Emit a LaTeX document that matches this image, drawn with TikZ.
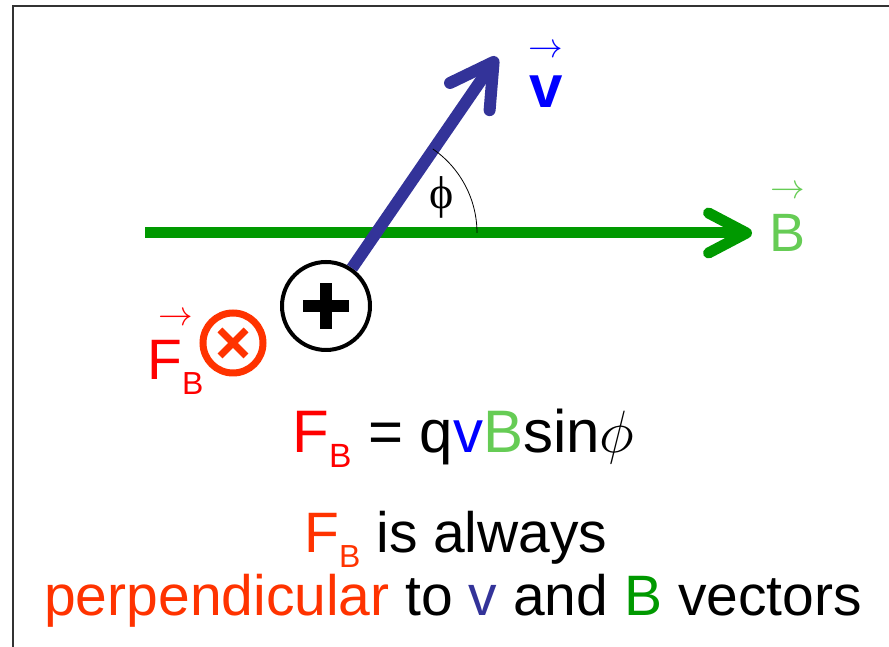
\documentclass[tikz,border=0pt]{standalone}
\usepackage{fontspec}
\setmainfont{Liberation Sans}
\newfontfamily\greekserif{Liberation Serif}
\usepackage{tikz}
\usetikzlibrary{arrows.meta,positioning}
\definecolor{fieldgreen}{HTML}{009900}
\definecolor{lightgreen}{HTML}{66CC55}
\definecolor{chargeblue}{HTML}{333399}
\definecolor{velblue}{HTML}{0000FF}
\definecolor{forcered}{HTML}{FF3300}
\definecolor{purered}{HTML}{FF0000}
\definecolor{framegray}{HTML}{333333}
\newcommand{\subb}{\raisebox{-0.25em}{\scalebox{0.56}{B}}}
\tikzset{
  fieldar/.style={-{Straight Barb[round,length=19pt,width=20pt]},line width=5.5pt,fieldgreen},
  velar/.style={-{Straight Barb[round,length=21pt,width=24pt]},line width=6pt,chargeblue},
  frame/.style={line width=1.3pt,framegray},
  anglearc/.style={thin,black},
  charge/.style={circle,draw,line width=2pt,minimum size=44pt,inner sep=0pt},
  intopage/.style={circle,draw=forcered,line width=3.5pt,minimum size=30pt,inner sep=0pt},
  txt/.style={font=\fontsize{28.5}{34}\selectfont,inner sep=0pt},
  vecmark/.style={inner sep=0pt,font=\fontsize{16.5}{16.5}\selectfont}
}
\begin{document}
\begin{tikzpicture}[x=0.5pt,y=0.5pt]
\useasboundingbox (0,0) rectangle (889,647);
\draw[frame] (13,0) -- (13,641) -- (889,641);
\coordinate (bstart) at (145,414);
\coordinate (btip) at (752,414);
\coordinate (vtip) at (497,590);
\coordinate (vertex) at (375,414);
\node[charge] (q) at (326,341) {};
\draw[fieldar] (bstart) -- (btip);
\draw[velar] (q) -- (vtip);
\draw[anglearc] ([xshift=51pt]vertex) arc[start angle=0,end angle=55.5,radius=51pt];
\node[font=\greekserif\fontsize{23}{23}\selectfont,inner sep=0pt] (ang) at (442,450) {ϕ};
\draw[line width=6pt] ([xshift=-11.5pt]q.center) -- ([xshift=11.5pt]q.center);
\draw[line width=6pt] ([yshift=-11.5pt]q.center) -- ([yshift=11.5pt]q.center);
\node[intopage] (fdir) at (233,304) {};
\draw[forcered,line width=3.5pt] ([shift={(-6.5pt,-6.5pt)}]fdir.center) -- ([shift={(6.5pt,6.5pt)}]fdir.center);
\draw[forcered,line width=3.5pt] ([shift={(-6.5pt,6.5pt)}]fdir.center) -- ([shift={(6.5pt,-6.5pt)}]fdir.center);
\node[txt,font=\fontsize{30}{30}\selectfont\bfseries,text=velblue,anchor=base] (vlbl) at (546,539) {v};
\node[vecmark,text=velblue,above=9pt of vlbl] (vlblarrow) {$\rightarrow$};
\node[txt,font=\fontsize{27}{27}\selectfont,text=lightgreen,anchor=base] (blbl) at (788,395) {B};
\node[vecmark,text=lightgreen,above=8pt of blbl] (blblarrow) {$\rightarrow$};
\node[txt,text=purered,anchor=base west] (flbl) at (147,267) {F\subb};
\node[vecmark,text=purered,above=7pt of flbl] (flblarrow) {$\rightarrow$};
\node[txt,font=\fontsize{30}{30}\selectfont,anchor=base west] (law) at (292,194) {\textcolor{purered}{F\subb} = q\textcolor{velblue}{v}\textcolor{lightgreen}{B}sin\scalebox{1.2}{$\phi$}};
\node[txt,anchor=base] (note1) at (456,94) {\textcolor{forcered}{F\subb} is always};
\node[txt,anchor=base] (note2) at (453,31) {\textcolor{forcered}{perpendicular} to \textcolor{chargeblue}{v} and \textcolor{fieldgreen}{B} vectors};
\end{tikzpicture}
\end{document}
